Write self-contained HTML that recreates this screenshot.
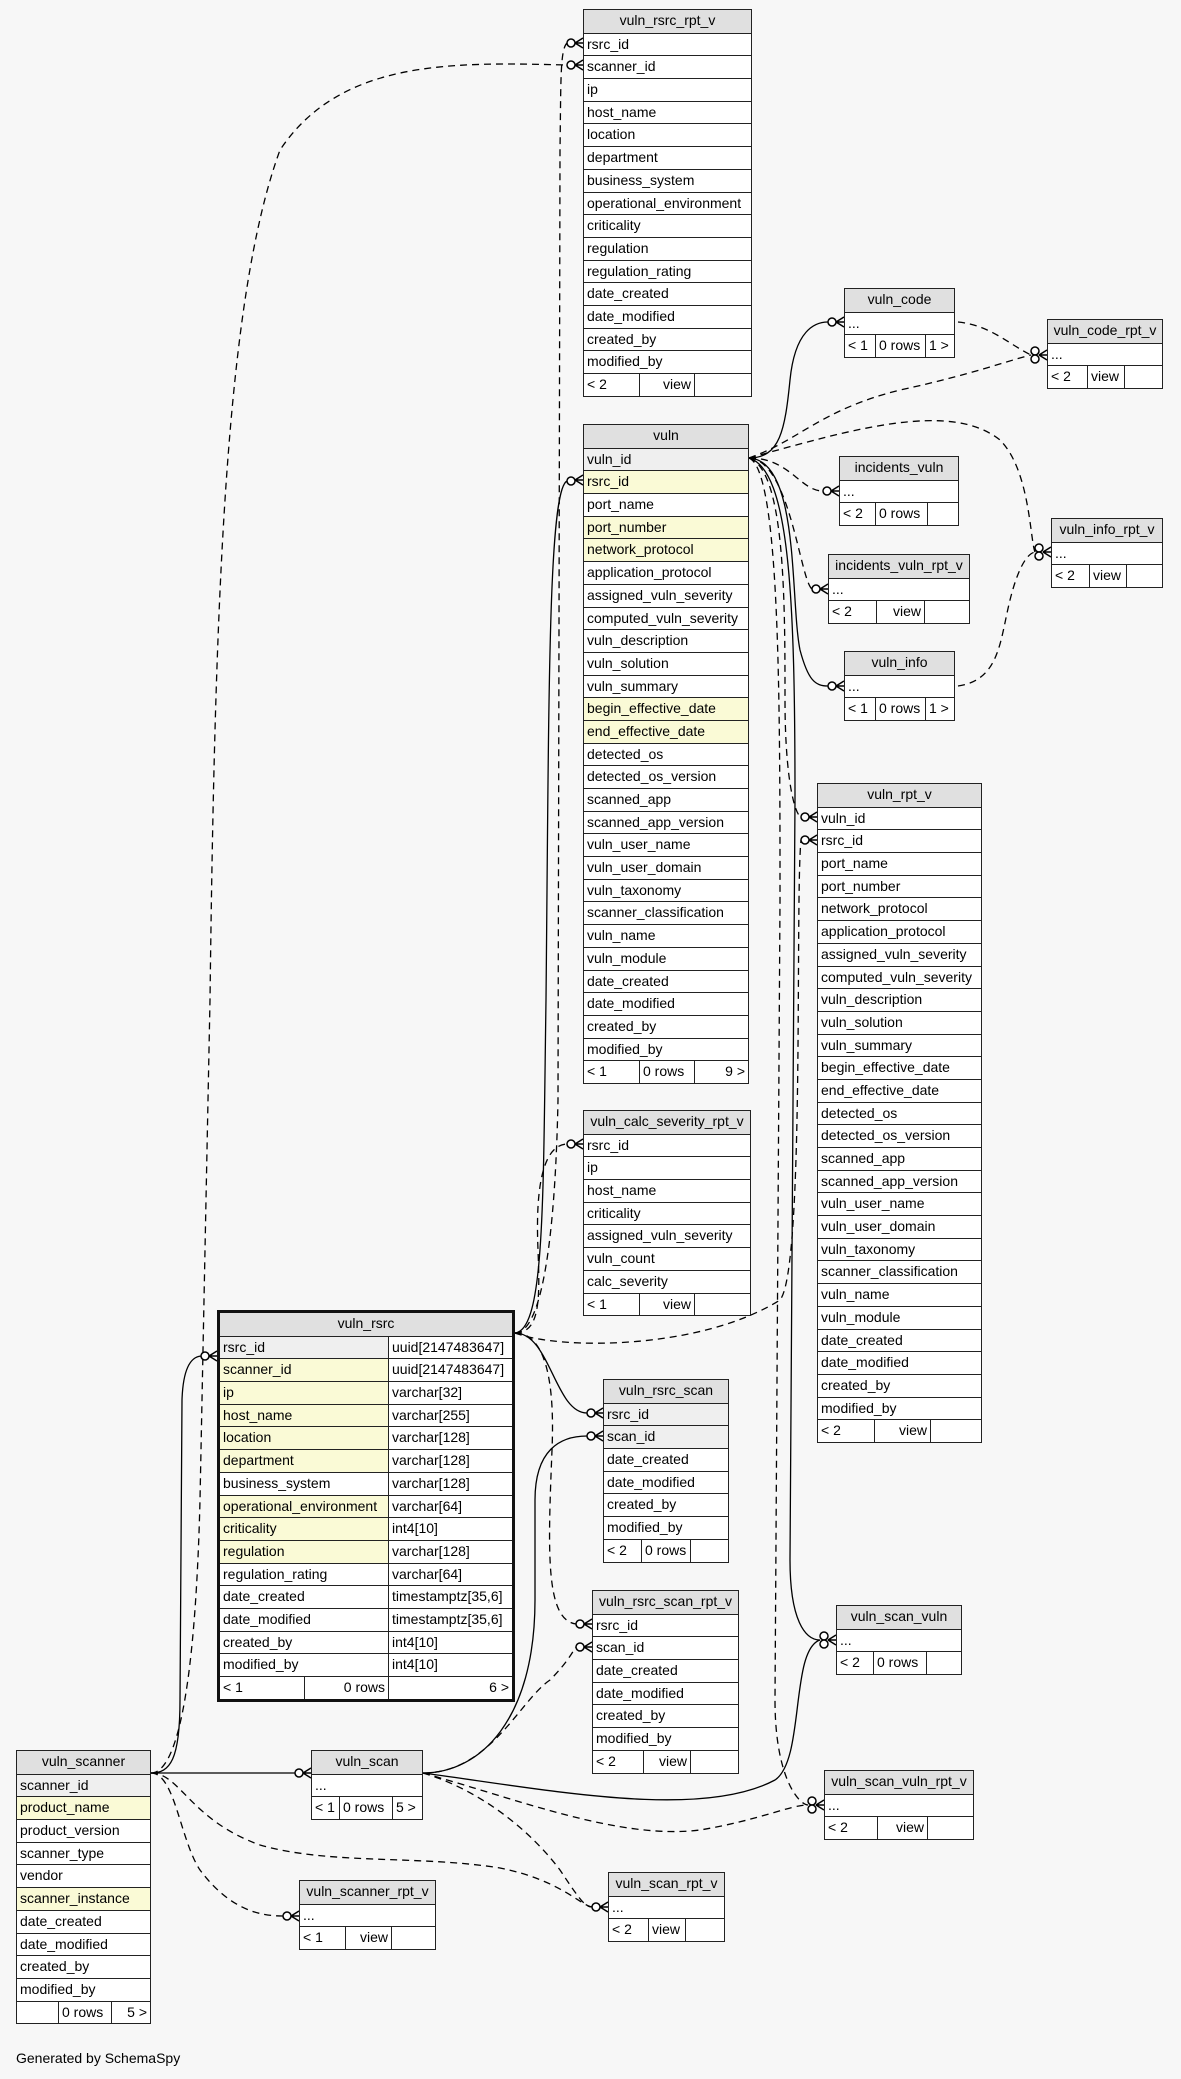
<!DOCTYPE html>
<html><head><meta charset="utf-8"><style>
body{margin:0;background:#f7f7f7;width:1181px;height:2079px;position:relative;overflow:hidden;font-family:"Liberation Sans",sans-serif}
.t{position:absolute;border:1px solid #222;background:#fff;font-size:14px;color:#000;box-sizing:border-box}
.t>div{height:22.7px;line-height:21px;border-top:1.5px solid #222;padding-left:3px;box-sizing:border-box;white-space:nowrap;overflow:hidden}
.t>div.h{background:#e0e0e0;text-align:center;border-top:none;padding-left:0}
.t>div.y{background:#fafad6}
.t>div.g{background:#efefef}
.t>div.f{display:flex;padding-left:0}
.f span{border-right:1.5px solid #222;padding:0 3px;box-sizing:border-box;height:100%}
.f span:last-child{border-right:none;flex:1}
.r{text-align:right}
.t>div.c2{display:flex;padding-left:0}
.c2 span{padding-left:3px;box-sizing:border-box;height:100%}
.c2 span:first-child{width:169px;border-right:1.5px solid #222}
.c2 span:last-child{flex:1;background:#fff}
.big{border:3.5px solid #111}
svg{position:absolute;left:0;top:0}
#gen{position:absolute;left:16px;top:2050px;font-size:14px}
</style></head><body>
<svg width="1181" height="2079" fill="none" stroke="#000" stroke-width="1.3">
<g>
<path d="M515,1333 C545,1330 543,1200 546,1000 C549,700 548,490 567,481"/>
<path d="M151,1773 C170,1773 180,1760 180,1700 L182,1400 C183,1370 190,1357 201,1356"/>
<path d="M151,1773 L295,1773"/>
<path d="M515,1333 C550,1333 555,1413 587,1413"/>
<path d="M423,1773 C480,1773 535,1720 535,1600 L535,1500 C535,1450 560,1436 587,1436"/>
<path d="M423,1773 C550,1790 700,1820 775,1780 C805,1760 790,1650 820,1640"/>
<path d="M749,458 C780,458 785,430 790,380 C795,330 815,322 828,322"/>
<path d="M749,458 C800,460 790,600 800,650 C808,680 815,686 828,686"/>
<path d="M749,458 C790,470 795,600 795,800 L790,1560 C790,1620 805,1640 820,1640"/>
</g>
<g stroke-dasharray="7,5">
<path d="M515,1333 C540,1333 555,1250 558,1100 L560,150 C561,80 560,50 567,43"/>
<path d="M151,1773 C175,1773 195,1700 200,1500 L210,1000 C215,600 225,300 280,150 C340,60 450,62 567,65"/>
<path d="M151,1773 C175,1773 180,1840 200,1870 C230,1910 260,1916 283,1916"/>
<path d="M151,1773 C180,1773 190,1820 260,1845 C330,1865 420,1855 500,1868 C560,1880 580,1905 592,1907"/>
<path d="M515,1333 C540,1333 540,1300 538,1250 C535,1180 545,1145 567,1144"/>
<path d="M515,1333 C545,1333 555,1380 552,1450 C548,1550 545,1620 576,1624"/>
<path d="M515,1333 C560,1350 700,1350 780,1300 C805,1270 795,900 801,840"/>
<path d="M423,1773 C490,1773 520,1700 550,1680 C570,1660 575,1647 576,1647"/>
<path d="M423,1773 C520,1800 620,1840 700,1830 C760,1820 790,1805 808,1805"/>
<path d="M423,1773 C480,1790 530,1830 560,1870 C580,1900 585,1907 592,1907"/>
<path d="M958,322 C990,325 1010,345 1031,355"/>
<path d="M749,458 C800,440 820,410 900,390 C970,375 1010,360 1031,355"/>
<path d="M749,458 C790,458 800,491 823,491"/>
<path d="M749,458 C790,460 800,580 812,589"/>
<path d="M749,458 C850,430 950,400 1000,440 C1030,470 1030,540 1035,552"/>
<path d="M958,686 C1000,680 1000,640 1010,600 C1020,560 1030,553 1035,552"/>
<path d="M749,458 C785,470 785,600 785,700 C785,780 795,815 801,817"/>
<path d="M749,458 C780,470 780,700 780,900 L775,1700 C775,1780 800,1805 808,1805"/>
</g>
<g stroke-width="1.5">
<path d="M575,43 l8,-5 M575,43 l8,0 M575,43 l8,5"/><circle cx="571" cy="43" r="4" fill="#fff"/>
<path d="M575,65 l8,-5 M575,65 l8,0 M575,65 l8,5"/><circle cx="571" cy="65" r="4" fill="#fff"/>
<path d="M575,480 l8,-5 M575,480 l8,0 M575,480 l8,5"/><circle cx="571" cy="481" r="4" fill="#fff"/>
<path d="M575,1144 l8,-5 M575,1144 l8,0 M575,1144 l8,5"/><circle cx="571" cy="1144" r="4" fill="#fff"/>
<path d="M209,1356 l8,-5 M209,1356 l8,0 M209,1356 l8,5"/><circle cx="205" cy="1356" r="4" fill="#fff"/>
<path d="M303,1773 l8,-5 M303,1773 l8,0 M303,1773 l8,5"/><circle cx="299" cy="1773" r="4" fill="#fff"/>
<path d="M291,1916 l8,-5 M291,1916 l8,0 M291,1916 l8,5"/><circle cx="287" cy="1916" r="4" fill="#fff"/>
<path d="M600,1907 l8,-5 M600,1907 l8,0 M600,1907 l8,5"/><circle cx="596" cy="1907" r="4" fill="#fff"/>
<path d="M595,1413 l8,-5 M595,1413 l8,0 M595,1413 l8,5"/><circle cx="591" cy="1413" r="4" fill="#fff"/>
<path d="M595,1436 l8,-5 M595,1436 l8,0 M595,1436 l8,5"/><circle cx="591" cy="1436" r="4" fill="#fff"/>
<path d="M584,1624 l8,-5 M584,1624 l8,0 M584,1624 l8,5"/><circle cx="580" cy="1624" r="4" fill="#fff"/>
<path d="M584,1647 l8,-5 M584,1647 l8,0 M584,1647 l8,5"/><circle cx="580" cy="1647" r="4" fill="#fff"/>
<path d="M809,840 l8,-5 M809,840 l8,0 M809,840 l8,5"/><circle cx="805" cy="840" r="4" fill="#fff"/>
<path d="M809,817 l8,-5 M809,817 l8,0 M809,817 l8,5"/><circle cx="805" cy="817" r="4" fill="#fff"/>
<path d="M828,1640 l8,-5 M828,1640 l8,0 M828,1640 l8,5"/><circle cx="824" cy="1636" r="4" fill="#fff"/><circle cx="824" cy="1644" r="4" fill="#fff"/>
<path d="M816,1805 l8,-5 M816,1805 l8,0 M816,1805 l8,5"/><circle cx="812" cy="1801" r="4" fill="#fff"/><circle cx="812" cy="1809" r="4" fill="#fff"/>
<path d="M836,322 l8,-5 M836,322 l8,0 M836,322 l8,5"/><circle cx="832" cy="322" r="4" fill="#fff"/>
<path d="M1039,355 l8,-5 M1039,355 l8,0 M1039,355 l8,5"/><circle cx="1035" cy="351" r="4" fill="#fff"/><circle cx="1035" cy="359" r="4" fill="#fff"/>
<path d="M831,491 l8,-5 M831,491 l8,0 M831,491 l8,5"/><circle cx="827" cy="491" r="4" fill="#fff"/>
<path d="M820,589 l8,-5 M820,589 l8,0 M820,589 l8,5"/><circle cx="816" cy="589" r="4" fill="#fff"/>
<path d="M836,686 l8,-5 M836,686 l8,0 M836,686 l8,5"/><circle cx="832" cy="686" r="4" fill="#fff"/>
<path d="M1043,552 l8,-5 M1043,552 l8,0 M1043,552 l8,5"/><circle cx="1039" cy="548" r="4" fill="#fff"/><circle cx="1039" cy="556" r="4" fill="#fff"/>
</g>
</svg>

<div class="t" style="left:583px;top:9px;width:169px">
<div class="h">vuln_rsrc_rpt_v</div><div>rsrc_id</div><div>scanner_id</div><div>ip</div><div>host_name</div><div>location</div><div>department</div><div>business_system</div><div>operational_environment</div><div>criticality</div><div>regulation</div><div>regulation_rating</div><div>date_created</div><div>date_modified</div><div>created_by</div><div>modified_by</div>
<div class="f"><span style="width:56px">&lt; 2</span><span class="r" style="width:55px">view</span><span></span></div></div>

<div class="t" style="left:844px;top:288px;width:111px">
<div class="h">vuln_code</div><div>...</div>
<div class="f"><span style="width:31px">&lt; 1</span><span style="width:50px">0 rows</span><span>1 &gt;</span></div></div>

<div class="t" style="left:1047px;top:319px;width:116px">
<div class="h">vuln_code_rpt_v</div><div>...</div>
<div class="f"><span style="width:40px">&lt; 2</span><span style="width:37px">view</span><span></span></div></div>

<div class="t" style="left:583px;top:424px;width:166px">
<div class="h">vuln</div><div class="g">vuln_id</div><div class="y">rsrc_id</div><div>port_name</div><div class="y">port_number</div><div class="y">network_protocol</div><div>application_protocol</div><div>assigned_vuln_severity</div><div>computed_vuln_severity</div><div>vuln_description</div><div>vuln_solution</div><div>vuln_summary</div><div class="y">begin_effective_date</div><div class="y">end_effective_date</div><div>detected_os</div><div>detected_os_version</div><div>scanned_app</div><div>scanned_app_version</div><div>vuln_user_name</div><div>vuln_user_domain</div><div>vuln_taxonomy</div><div>scanner_classification</div><div>vuln_name</div><div>vuln_module</div><div>date_created</div><div>date_modified</div><div>created_by</div><div>modified_by</div>
<div class="f"><span style="width:56px">&lt; 1</span><span style="width:55px">0 rows</span><span class="r">9 &gt;</span></div></div>

<div class="t" style="left:839px;top:456px;width:120px">
<div class="h">incidents_vuln</div><div>...</div>
<div class="f"><span style="width:36px">&lt; 2</span><span style="width:52px">0 rows</span><span></span></div></div>

<div class="t" style="left:828px;top:554px;width:142px">
<div class="h">incidents_vuln_rpt_v</div><div>...</div>
<div class="f"><span style="width:48px">&lt; 2</span><span class="r" style="width:48px">view</span><span></span></div></div>

<div class="t" style="left:844px;top:651px;width:111px">
<div class="h">vuln_info</div><div>...</div>
<div class="f"><span style="width:31px">&lt; 1</span><span style="width:50px">0 rows</span><span>1 &gt;</span></div></div>

<div class="t" style="left:1051px;top:518px;width:112px">
<div class="h">vuln_info_rpt_v</div><div>...</div>
<div class="f"><span style="width:38px">&lt; 2</span><span style="width:37px">view</span><span></span></div></div>

<div class="t" style="left:817px;top:783px;width:165px">
<div class="h">vuln_rpt_v</div><div>vuln_id</div><div>rsrc_id</div><div>port_name</div><div>port_number</div><div>network_protocol</div><div>application_protocol</div><div>assigned_vuln_severity</div><div>computed_vuln_severity</div><div>vuln_description</div><div>vuln_solution</div><div>vuln_summary</div><div>begin_effective_date</div><div>end_effective_date</div><div>detected_os</div><div>detected_os_version</div><div>scanned_app</div><div>scanned_app_version</div><div>vuln_user_name</div><div>vuln_user_domain</div><div>vuln_taxonomy</div><div>scanner_classification</div><div>vuln_name</div><div>vuln_module</div><div>date_created</div><div>date_modified</div><div>created_by</div><div>modified_by</div>
<div class="f"><span style="width:57px">&lt; 2</span><span class="r" style="width:56px">view</span><span></span></div></div>

<div class="t" style="left:583px;top:1110px;width:168px">
<div class="h">vuln_calc_severity_rpt_v</div><div>rsrc_id</div><div>ip</div><div>host_name</div><div>criticality</div><div>assigned_vuln_severity</div><div>vuln_count</div><div>calc_severity</div>
<div class="f"><span style="width:56px">&lt; 1</span><span class="r" style="width:55px">view</span><span></span></div></div>

<div class="t big" style="left:217px;top:1310px;width:298px">
<div class="h">vuln_rsrc</div>
<div class="c2 g"><span>rsrc_id</span><span>uuid[2147483647]</span></div>
<div class="c2 y"><span>scanner_id</span><span>uuid[2147483647]</span></div>
<div class="c2 y"><span>ip</span><span>varchar[32]</span></div>
<div class="c2 y"><span>host_name</span><span>varchar[255]</span></div>
<div class="c2 y"><span>location</span><span>varchar[128]</span></div>
<div class="c2 y"><span>department</span><span>varchar[128]</span></div>
<div class="c2"><span>business_system</span><span>varchar[128]</span></div>
<div class="c2 y"><span>operational_environment</span><span>varchar[64]</span></div>
<div class="c2 y"><span>criticality</span><span>int4[10]</span></div>
<div class="c2 y"><span>regulation</span><span>varchar[128]</span></div>
<div class="c2"><span>regulation_rating</span><span>varchar[64]</span></div>
<div class="c2"><span>date_created</span><span>timestamptz[35,6]</span></div>
<div class="c2"><span>date_modified</span><span>timestamptz[35,6]</span></div>
<div class="c2"><span>created_by</span><span>int4[10]</span></div>
<div class="c2"><span>modified_by</span><span>int4[10]</span></div>
<div class="f"><span style="width:85px">&lt; 1</span><span class="r" style="width:84px">0 rows</span><span class="r">6 &gt;</span></div></div>

<div class="t" style="left:603px;top:1379px;width:126px">
<div class="h">vuln_rsrc_scan</div><div class="g">rsrc_id</div><div class="g">scan_id</div><div>date_created</div><div>date_modified</div><div>created_by</div><div>modified_by</div>
<div class="f"><span style="width:38px">&lt; 2</span><span style="width:49px">0 rows</span><span></span></div></div>

<div class="t" style="left:592px;top:1590px;width:147px">
<div class="h">vuln_rsrc_scan_rpt_v</div><div>rsrc_id</div><div>scan_id</div><div>date_created</div><div>date_modified</div><div>created_by</div><div>modified_by</div>
<div class="f"><span style="width:51px">&lt; 2</span><span class="r" style="width:47px">view</span><span></span></div></div>

<div class="t" style="left:836px;top:1605px;width:126px">
<div class="h">vuln_scan_vuln</div><div>...</div>
<div class="f"><span style="width:37px">&lt; 2</span><span style="width:53px">0 rows</span><span></span></div></div>

<div class="t" style="left:824px;top:1770px;width:150px">
<div class="h">vuln_scan_vuln_rpt_v</div><div>...</div>
<div class="f"><span style="width:53px">&lt; 2</span><span class="r" style="width:50px">view</span><span></span></div></div>

<div class="t" style="left:608px;top:1872px;width:117px">
<div class="h">vuln_scan_rpt_v</div><div>...</div>
<div class="f"><span style="width:40px">&lt; 2</span><span style="width:37px">view</span><span></span></div></div>

<div class="t" style="left:299px;top:1880px;width:137px">
<div class="h">vuln_scanner_rpt_v</div><div>...</div>
<div class="f"><span style="width:46px">&lt; 1</span><span class="r" style="width:46px">view</span><span></span></div></div>

<div class="t" style="left:311px;top:1750px;width:112px">
<div class="h">vuln_scan</div><div>...</div>
<div class="f"><span style="width:28px">&lt; 1</span><span style="width:53px">0 rows</span><span>5 &gt;</span></div></div>

<div class="t" style="left:16px;top:1750px;width:135px">
<div class="h">vuln_scanner</div><div class="g">scanner_id</div><div class="y">product_name</div><div>product_version</div><div>scanner_type</div><div>vendor</div><div class="y">scanner_instance</div><div>date_created</div><div>date_modified</div><div>created_by</div><div>modified_by</div>
<div class="f"><span style="width:42px"></span><span style="width:53px">0 rows</span><span class="r">5 &gt;</span></div></div>

<div id="gen">Generated by SchemaSpy</div>
</body></html>
